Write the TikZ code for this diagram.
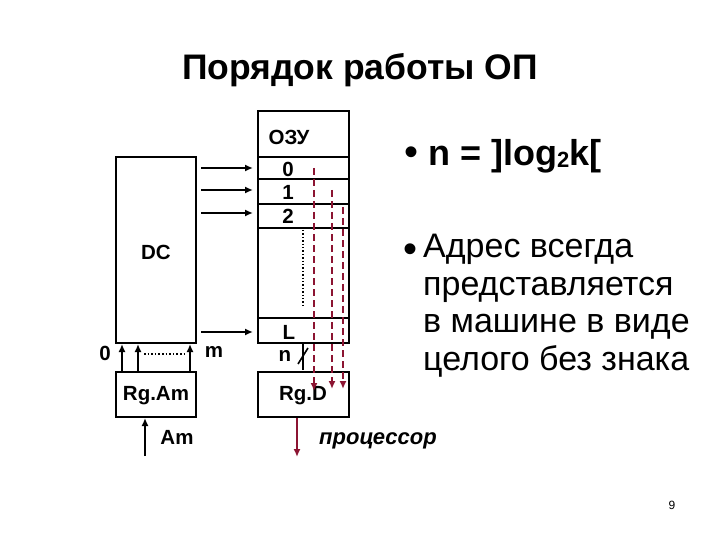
\documentclass[tikz,border=0pt]{standalone}
\usepackage{fontspec}
\setmainfont{Liberation Sans}
\usetikzlibrary{arrows.meta}
\begin{document}
\begin{tikzpicture}[x=1pt,y=-1pt,
  box/.style={draw,line width=1.5pt},
  blk/.style={-{Latex[length=8pt,width=7pt]},line width=2pt},
  red/.style={-{Latex[length=8pt,width=7pt]},line width=2.6pt,draw={rgb,255:red,140;green,20;blue,50},dash pattern=on 7pt off 4pt},
  lbl/.style={font=\bfseries\fontsize{20.5}{22}\selectfont,inner sep=0pt}]
\useasboundingbox (0,0) rectangle (720,540);
\node[font=\bfseries\fontsize{35.5}{40}\selectfont] (title) at (360,70) {Порядок работы ОП};
% DC
\draw[box] (116,157) rectangle (196,343);
\node[lbl] (dc) at (156,252) {DC};
% RAM
\draw[box] (258,111) rectangle (349,343);
\foreach \yy in {157,179,204,228,318} \draw[box] (258,\yy) -- (349,\yy);
\node[lbl] (ozu) at (289,137) {ОЗУ};
\node[lbl] (r0) at (288,169) {0};
\node[lbl] (r1) at (288,192) {1};
\node[lbl] (r2) at (288,216) {2};
\node[lbl] (rl) at (289,332) {L};
\draw[dotted,line width=1.4pt] (303,230) -- (303,308);
% DC -> RAM arrows
\foreach \yy in {168,190,213,332} {\coordinate (s\yy) at (201,\yy); \coordinate (e\yy) at (253,\yy); \draw[blk] (s\yy) -- (e\yy);}
% RgAm
\draw[box] (116,372) rectangle (196,417);
\node[lbl] (rgam) at (156,396) {Rg.Am};
\foreach \xx in {122,138,190} \draw[blk] (\xx,372) -- (\xx,344);
\draw[dotted,line width=1.6pt] (144,354) -- (186,354);
\node[lbl] (z) at (105,353) {0};
\node[lbl] (m) at (214,352) {m};
\draw[blk] (145,456) -- (145,418);
\node[lbl] (am) at (177,437) {Am};
% RgD
\draw[box] (258,372) rectangle (349,417);
\node[lbl] (rgd) at (303,396) {Rg.D};
\node[lbl] (n) at (285,356) {n};
\draw[line width=1.5pt] (303,344) -- (303,370);
\draw[line width=1.6pt] (298,364) -- (308,348);
\draw[red] (314,168) -- (314,391);
\draw[red] (332,190) -- (332,389);
\draw[red,line width=1.8pt] (343,207) -- (343,389);
\draw[-{Latex[length=8pt,width=7pt]},line width=2.6pt,draw={rgb,255:red,140;green,20;blue,50}] (297,418) -- (297,457);
\node[font=\bfseries\itshape\fontsize{22}{24}\selectfont] (proc) at (378,441) {процессор};
% bullets
\node[font=\fontsize{40}{40}\selectfont] (d1) at (411,156) {•};
\node[anchor=west,inner sep=0pt,font=\bfseries\fontsize{36}{40}\selectfont] (b1) at (428,156) {n = ]log{\fontsize{22}{24}\selectfont\raisebox{-2pt}{2}}k[};
\node[font=\fontsize{40}{40}\selectfont] (d2) at (410,253) {•};
\node[anchor=north west,align=left,font=\fontsize{34}{37.7}\selectfont,inner sep=0pt] (b2) at (423,234) {Адрес всегда\\представляется\\в машине в виде\\целого без знака};
\node[font=\fontsize{12}{13}\selectfont] (pg) at (672,505) {9};
\end{tikzpicture}
\end{document}
